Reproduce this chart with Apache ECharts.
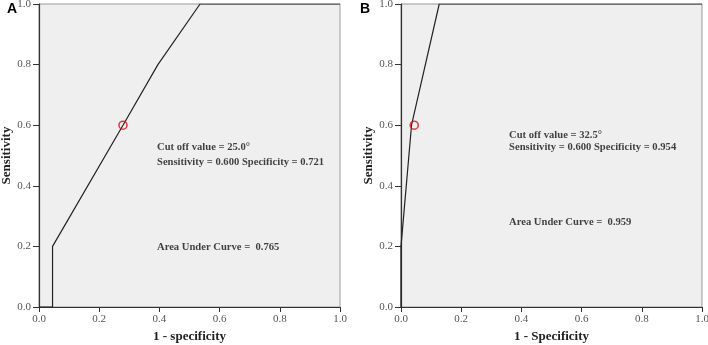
<!DOCTYPE html>
<html>
<head>
<meta charset="utf-8">
<script src="https://cdn.jsdelivr.net/npm/echarts@6/dist/echarts.min.js"></script>
<style>
  html, body { margin: 0; padding: 0; background: #fff; }
  #main { width: 708px; height: 345px; }
</style>
</head>
<body>
<div id="main"></div>
<script>
// ROC curve A: [1 - specificity, sensitivity]
var curveA = [[0, 0], [0.045, 0], [0.045, 0.2], [0.279, 0.6], [0.395, 0.8], [0.535, 1.0], [1, 1]];
var cutA = [[0.279, 0.6]];
// ROC curve B
var curveB = [[0, 0], [0, 0.2], [0.035, 0.6], [0.127, 1.0], [1, 1]];
var cutB = [[0.044, 0.6]];

var notesA = [
    { at: [0.392, 0.527], text: 'Cut off value = 25.0°' },
    { at: [0.392, 0.478], text: 'Sensitivity = 0.600 Specificity = 0.721' },
    { at: [0.392, 0.198], text: 'Area Under Curve =  0.765' }
];
var notesB = [
    { at: [0.359, 0.567], text: 'Cut off value = 32.5°' },
    { at: [0.359, 0.528], text: 'Sensitivity = 0.600 Specificity = 0.954' },
    { at: [0.359, 0.280], text: 'Area Under Curve =  0.959' }
];
var xTitles = ['1 - specificity', '1 - Specificity'];

var serif = '"Liberation Serif", "DejaVu Serif", serif';

function xAx(i) {
    return {
        gridIndex: i, type: 'value', min: 0, max: 1, interval: 0.2,
        name: xTitles[i], nameLocation: 'middle', nameGap: 23,
        nameTextStyle: { fontFamily: serif, fontWeight: 'bold', fontSize: 13, color: '#222' },
        axisLine: { lineStyle: { color: '#333', width: 1.2 } },
        axisTick: { show: true, length: 5, lineStyle: { color: '#333' } },
        axisLabel: { fontFamily: serif, fontSize: 11, color: '#555', margin: 7,
            formatter: function (v) { return v.toFixed(1); } },
        splitLine: { show: false }
    };
}
function yAx(i) {
    return {
        gridIndex: i, type: 'value', min: 0, max: 1, interval: 0.2,
        name: 'Sensitivity', nameLocation: 'middle', nameGap: 22, nameRotate: 90,
        nameTextStyle: { fontFamily: serif, fontWeight: 'bold', fontSize: 13, color: '#222' },
        axisLine: { lineStyle: { color: '#333', width: 1.2 } },
        axisTick: { show: true, length: 6, lineStyle: { color: '#333' } },
        axisLabel: { fontFamily: serif, fontSize: 11, color: '#555', margin: 8,
            formatter: function (v) { return v.toFixed(1); } },
        splitLine: { show: false }
    };
}
function notes(list, i) {
    return {
        type: 'scatter', xAxisIndex: i, yAxisIndex: i, symbolSize: 0, silent: true,
        data: list.map(function (n) { return { value: n.at, name: n.text }; }),
        label: { show: true, position: 'right', distance: 0, formatter: '{b}',
            fontFamily: serif, fontWeight: 'bold', fontSize: 10.6, color: '#111' }
    };
}
function curve(d, i) {
    return {
        type: 'line', xAxisIndex: i, yAxisIndex: i, data: d, showSymbol: false,
        lineStyle: { color: '#222', width: 1.2 }, silent: true
    };
}
function cut(d, i) {
    return {
        type: 'scatter', xAxisIndex: i, yAxisIndex: i, data: d, symbol: 'circle', symbolSize: 8,
        itemStyle: { color: 'transparent', borderColor: '#d8101a', borderWidth: 1.6 }, silent: true, z: 5
    };
}

var chart = echarts.init(document.getElementById('main'));
chart.setOption({
    animation: false,
    title: [
        { text: 'A', left: 2, top: -3, textStyle: { fontFamily: 'Liberation Sans', fontWeight: 'bold', fontSize: 14, color: '#000' } },
        { text: 'B', left: 355, top: -3, textStyle: { fontFamily: 'Liberation Sans', fontWeight: 'bold', fontSize: 14, color: '#000' } }
    ],
    grid: [
        { left: 39, right: 368, top: 4, bottom: 38, outerBoundsMode: 'none', containLabel: false,
          show: true, backgroundColor: '#efefef', borderColor: '#999', borderWidth: 1 },
        { left: 401, right: 6, top: 4, bottom: 38, outerBoundsMode: 'none', containLabel: false,
          show: true, backgroundColor: '#efefef', borderColor: '#999', borderWidth: 1 }
    ],
    xAxis: [xAx(0), xAx(1)],
    yAxis: [yAx(0), yAx(1)],
    series: [
        curve(curveA, 0), cut(cutA, 0), notes(notesA, 0),
        curve(curveB, 1), cut(cutB, 1), notes(notesB, 1)
    ]
});
</script>
</body>
</html>
